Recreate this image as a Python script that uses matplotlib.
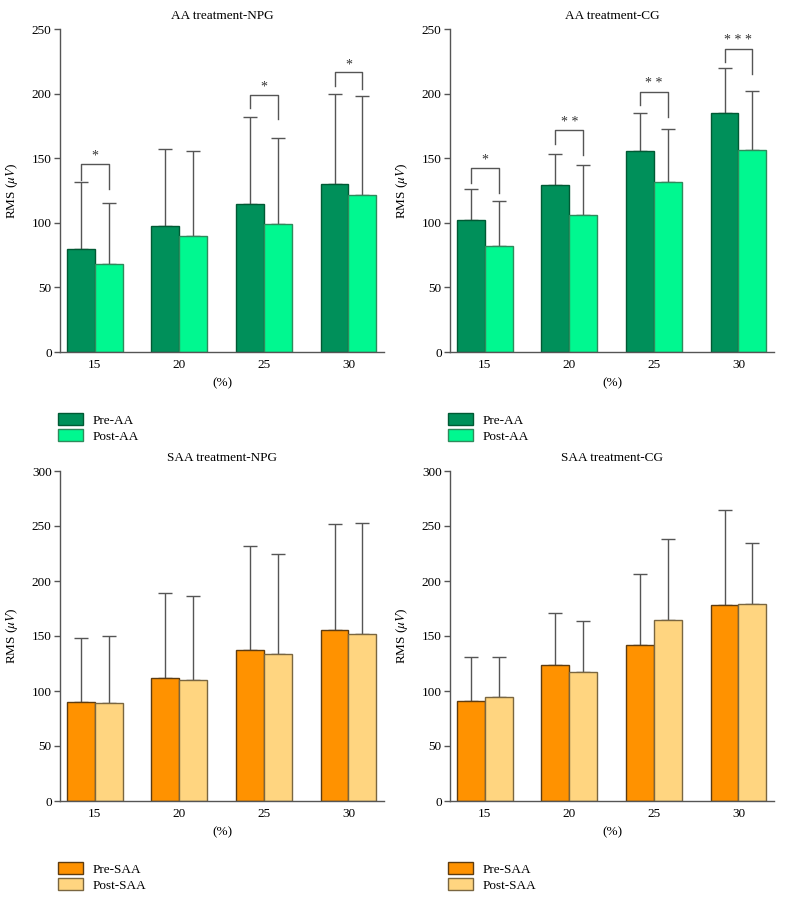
import matplotlib
matplotlib.use("Agg")
import matplotlib.pyplot as plt
import numpy as np
from matplotlib.patches import Patch

plt.rcParams['font.family'] = ['Liberation Serif', 'DejaVu Serif']
plt.rcParams['mathtext.fontset'] = 'stix'

categories = ['15', '20', '25', '30']

# AA treatment - NPG
aa_npg_pre = [80.0, 97.9, 114.9, 130.4]
aa_npg_pre_sd = [51.5, 59.1, 66.7, 69.2]
aa_npg_post = [68.0, 90.1, 99.2, 121.9]
aa_npg_post_sd = [47.7, 65.1, 66.3, 76.2]
aa_npg_brackets = [(0, 145.4, 133.0, 126.0, '*'),
                   (2, 199.1, 188.5, 180.0, '*'),
                   (3, 216.4, 205.8, 203.8, '*')]

# AA treatment - CG
aa_cg_pre = [102.5, 129.6, 155.5, 184.7]
aa_cg_pre_sd = [23.3, 23.6, 29.2, 35.3]
aa_cg_post = [81.9, 106.1, 131.5, 156.0]
aa_cg_post_sd = [35.1, 38.8, 40.8, 46.2]
aa_cg_brackets = [(0, 142.6, 130.9, 123.2, '*'),
                  (1, 171.7, 160.9, 152.1, '* *'),
                  (2, 201.4, 190.9, 182.1, '* *'),
                  (3, 234.8, 224.4, 215.1, '* * *')]

# SAA treatment - NPG
saa_npg_pre = [90.3, 111.8, 137.6, 155.8]
saa_npg_pre_sd = [58.2, 77.0, 94.2, 95.7]
saa_npg_post = [89.4, 110.3, 133.6, 151.5]
saa_npg_post_sd = [60.6, 76.1, 90.9, 101.2]

# SAA treatment - CG
saa_cg_pre = [90.9, 123.9, 142.1, 178.5]
saa_cg_pre_sd = [40.3, 47.0, 64.3, 86.0]
saa_cg_post = [94.2, 117.0, 164.8, 179.4]
saa_cg_post_sd = [37.0, 46.3, 73.4, 55.4]

green_dark = '#00905a'
green_light = '#00f890'
orange_dark = '#ff9200'
orange_light = '#ffd580'

fig = plt.figure(figsize=(7.88, 9.0), dpi=100)

W = 324 / 788
panels = [
    dict(rect=[60/788, 1-352/900, W, 323/900], title='AA treatment-NPG',
         pre=aa_npg_pre, pre_sd=aa_npg_pre_sd, post=aa_npg_post, post_sd=aa_npg_post_sd,
         ymax=250, colors=(green_dark, green_light), edges=('#005a34', '#2f8a5c'),
         labels=('Pre-AA', 'Post-AA'), brackets=aa_npg_brackets),
    dict(rect=[450/788, 1-352/900, W, 323/900], title='AA treatment-CG',
         pre=aa_cg_pre, pre_sd=aa_cg_pre_sd, post=aa_cg_post, post_sd=aa_cg_post_sd,
         ymax=250, colors=(green_dark, green_light), edges=('#005a34', '#2f8a5c'),
         labels=('Pre-AA', 'Post-AA'), brackets=aa_cg_brackets),
    dict(rect=[60/788, 1-801/900, W, 330/900], title='SAA treatment-NPG',
         pre=saa_npg_pre, pre_sd=saa_npg_pre_sd, post=saa_npg_post, post_sd=saa_npg_post_sd,
         ymax=300, colors=(orange_dark, orange_light), edges=('#5e3c10', '#7a6640'),
         labels=('Pre-SAA', 'Post-SAA'), brackets=[]),
    dict(rect=[450/788, 1-801/900, W, 330/900], title='SAA treatment-CG',
         pre=saa_cg_pre, pre_sd=saa_cg_pre_sd, post=saa_cg_post, post_sd=saa_cg_post_sd,
         ymax=300, colors=(orange_dark, orange_light), edges=('#5e3c10', '#7a6640'),
         labels=('Pre-SAA', 'Post-SAA'), brackets=[]),
]

bw = 0.33
spine_col = '#555555'
err_col = '#555555'
fs = 9.5

for p in panels:
    ax = fig.add_axes(p['rect'])
    hpx = p['rect'][3] * 900
    x = np.arange(len(categories))
    pre = np.array(p['pre']); post = np.array(p['post'])
    ax.bar(x - bw/2, pre, bw, color=p['colors'][0], edgecolor=p['edges'][0], linewidth=1.0, zorder=2)
    ax.bar(x + bw/2, post, bw, color=p['colors'][1], edgecolor=p['edges'][1], linewidth=1.0, zorder=2)
    ax.errorbar(x - bw/2, pre, yerr=[np.zeros(4), p['pre_sd']], fmt='none',
                ecolor=err_col, elinewidth=1.0, capsize=5, capthick=1.0, zorder=1)
    ax.errorbar(x + bw/2, post, yerr=[np.zeros(4), p['post_sd']], fmt='none',
                ecolor=err_col, elinewidth=1.0, capsize=5, capthick=1.0, zorder=1)
    for (g, ytop, yl, yr, txt) in p['brackets']:
        xl, xr = g - bw/2, g + bw/2
        ax.plot([xl, xl, xr, xr], [yl, ytop, ytop, yr], color=err_col, lw=1.0)
        ax.text(g, ytop + p['ymax']*0.004, txt, ha='center', va='bottom', fontsize=10, color='#333333')
    ax.set_xlim(-0.41, 3.42)
    ax.set_ylim(0, p['ymax'])
    ax.set_yticks(np.arange(0, p['ymax'] + 1, 50))
    ax.set_xticks(x)
    ax.set_xticklabels(categories)
    ax.tick_params(axis='x', length=0, pad=5, labelsize=fs)
    ax.tick_params(axis='y', length=4, width=1, color=spine_col, labelsize=fs, pad=2)
    for s in ['top', 'right']:
        ax.spines[s].set_visible(False)
    for s in ['left', 'bottom']:
        ax.spines[s].set_color(spine_col)
        ax.spines[s].set_linewidth(1.0)
    ax.set_title(p['title'], fontsize=fs, pad=7)
    ax.set_ylabel(r'RMS ($\mu V$)', fontsize=fs)
    ax.yaxis.set_label_coords(-0.125, 0.5)
    ax.set_xlabel('(%)', fontsize=fs)
    ax.xaxis.set_label_coords(0.5, -25 / hpx)
    handles = [Patch(facecolor=p['colors'][0], edgecolor=p['edges'][0], linewidth=1.0),
               Patch(facecolor=p['colors'][1], edgecolor=p['edges'][1], linewidth=1.0)]
    ax.legend(handles, p['labels'], loc='upper left',
              bbox_to_anchor=(-0.005, -(413 - 352) / hpx), frameon=False,
              fontsize=fs, handlelength=1.9, handleheight=1.05, labelspacing=0.2,
              handletextpad=0.7, borderaxespad=0, borderpad=0)

fig.savefig('out.png', dpi=100)
